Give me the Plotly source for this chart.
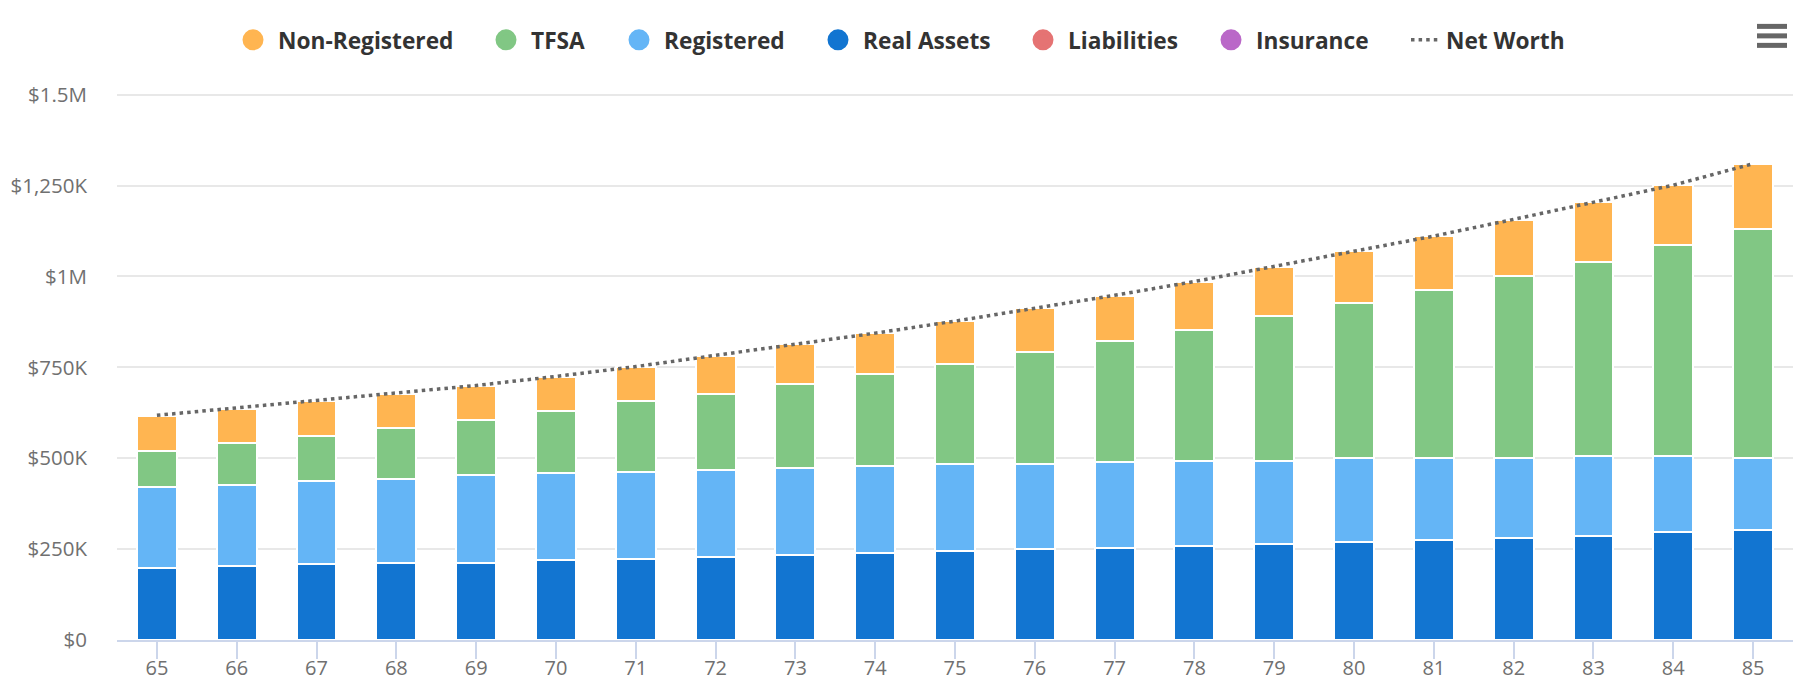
import plotly.graph_objects as go

ages = [str(a) for a in range(65, 86)]
real_assets = [198,203,208,213,213,219,224,228,234,239,244,249,254,259,264,270,275,281,285,297,302]
registered = [224,223,229,229,240,239,239,240,240,240,240,235,235,234,229,230,225,219,220,208,198]
tfsa = [98,115,125,141,151,171,193,209,229,254,276,307,333,360,398,427,463,500,536,582,630]
non_registered = [96,95,94,94,94,95,94,105,110,111,117,121,125,132,136,142,147,156,163,164,179]
liabilities = [0]*21
insurance = [0]*21
net_worth = [618,638,658,679,700,725,752,783,813,844,877,912,948,986,1027,1068,1111,1157,1204,1251,1310]
tick_vals = [0,250,500,750,1000,1250,1500]
tick_text = ["$0","$250K","$500K","$750K","$1M","$1,250K","$1.5M"]

W, H = 1806, 692
L, R, T, B = 117, 1793, 90.66, 640
PW, PH = R-L, B-T
FONT = "Open Sans"
px = lambda x: (x-L)/PW
py = lambda y: (B-y)/PH

stack = [
    ("Insurance", insurance, "#BA68C8", 1231),
    ("Liabilities", liabilities, "#E57373", 1043),
    ("Real Assets", real_assets, "#1275D1", 838),
    ("Registered", registered, "#64B5F6", 639),
    ("TFSA", tfsa, "#81C784", 506),
    ("Non-Registered", non_registered, "#FFB551", 253),
]
LEG_Y = 39.7
LEG_FONT = dict(family=FONT, size=22.7, color="#333333", weight=700)

fig = go.Figure()
layout_legends = {}
for i, (name, vals, color, cx) in enumerate(stack):
    key = "legend" if i == 0 else f"legend{i+1}"
    fig.add_trace(go.Bar(x=ages, y=vals, name=name, width=0.5, legendgroup=name, showlegend=False,
                         marker=dict(color=color, line=dict(color="white", width=2))))
    fig.add_trace(go.Scatter(x=[None], y=[None], mode="markers", name=name, legendgroup=name, legend=key,
                             marker=dict(color=color, size=16, symbol="circle", line=dict(color=color, width=5))))
    layout_legends[key] = dict(x=px(cx-25), y=py(LEG_Y), xanchor="left", yanchor="middle", orientation="h",
                               itemwidth=40, bgcolor="rgba(0,0,0,0)", font=LEG_FONT)

fig.add_trace(go.Scatter(x=ages, y=net_worth, mode="lines", name="Net Worth", legend="legend7",
                         line=dict(color="#666666", width=3.5, dash="3.5px,4.1px")))
layout_legends["legend7"] = dict(x=px(1406), y=py(LEG_Y), xanchor="left", yanchor="middle", orientation="h",
                                 itemwidth=30, bgcolor="rgba(0,0,0,0)", font=LEG_FONT)

shapes = [dict(type="line", xref="paper", yref="paper", x0=px(1757), x1=px(1787), y0=py(y), y1=py(y),
               line=dict(color="#666666", width=5)) for y in (26, 35.5, 45)]

fig.update_layout(
    width=W, height=H, barmode="stack", paper_bgcolor="white", plot_bgcolor="white",
    margin=dict(l=L, r=W-R, t=T, b=H-B, autoexpand=False),
    font=dict(family=FONT, size=20, color="#707070"),
    shapes=shapes, hovermode="x",
    **layout_legends,
)
fig.update_xaxes(type="category", range=[-0.5, 20.5], showgrid=False, showline=True, linecolor="#ccd6eb", linewidth=2,
                 ticks="outside", ticklen=17, tickwidth=2, tickcolor="#ccd6eb", ticklabelstandoff=-8,
                 tickfont=dict(family=FONT, size=20, color="#707070"))
fig.update_yaxes(range=[0, 1510], tickvals=tick_vals, ticktext=tick_text, showgrid=True, gridcolor="#e8e8e8", gridwidth=2,
                 zeroline=False, showline=False, ticks="", ticklabelstandoff=29,
                 tickfont=dict(family=FONT, size=20.5, color="#707070"))

fig.write_html("out.html", config={"displayModeBar": False},
               post_script="document.body.style.margin='0';document.body.style.overflow='hidden';")
